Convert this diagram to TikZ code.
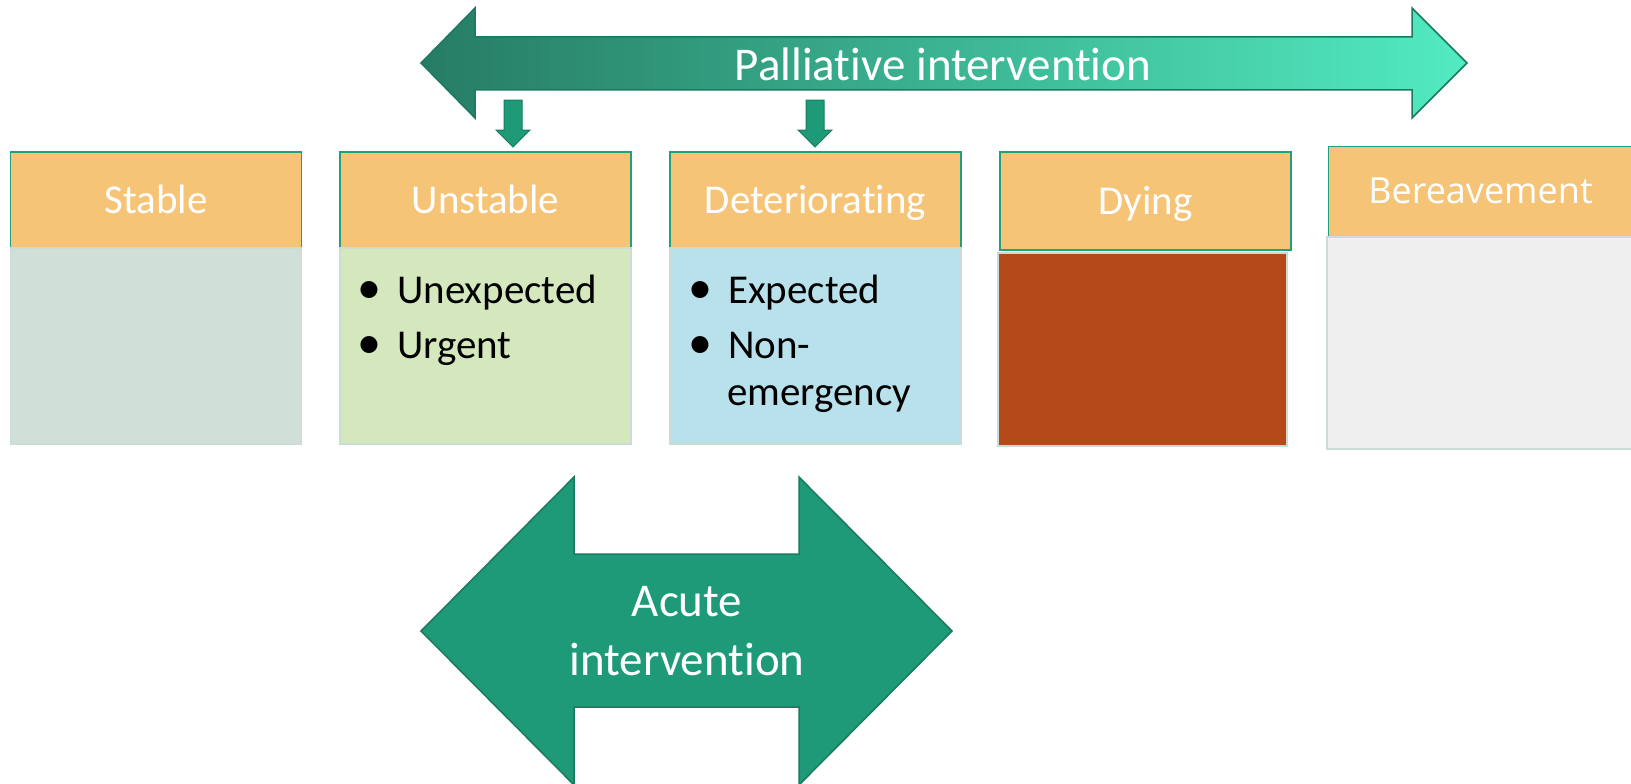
\documentclass[tikz,border=0pt]{standalone}
\usepackage{fontspec}
\setmainfont{Carlito}[RawFeature={-liga;-clig;-calt;-dlig;-rlig}]
\newfontfamily\bereavefont{Open Sans}
\definecolor{headfill}{HTML}{F6C477}
\definecolor{headline}{HTML}{21A07D}
\definecolor{stablefill}{HTML}{D0E0D8}
\definecolor{unstablefill}{HTML}{D5E8BD}
\definecolor{detfill}{HTML}{B8E1EC}
\definecolor{dyingfill}{HTML}{B54918}
\definecolor{bereavefill}{HTML}{EFEFEF}
\definecolor{bodyline}{HTML}{C9DDD4}
\definecolor{acutefill}{HTML}{1F9A78}
\definecolor{acuteline}{HTML}{1A7A5F}
\definecolor{pallleft}{HTML}{267C64}
\definecolor{pallright}{HTML}{52EBC1}
\tikzset{
  head/.style={draw=headline, fill=headfill, line width=1.5pt, minimum width=291pt, minimum height=96pt,
    inner sep=0pt, text=white, text height=33pt, text depth=7pt, font=\fontsize{41}{49}\selectfont},
  body/.style={draw=bodyline, fill=#1, line width=1.5pt, minimum width=291pt, minimum height=196pt, inner sep=0pt},
  item/.style={anchor=base west, inner sep=0pt, font=\fontsize{41}{49}\selectfont},
  dot/.style={anchor=base, inner sep=0pt, font=\fontsize{48}{49}\selectfont}
}
\begin{document}
\begin{tikzpicture}[x=1pt,y=-1pt]
        \useasboundingbox (0,0) rectangle (1631,784);
        % palliative arrow
        \draw[draw=acuteline, line width=1.5pt, left color=pallleft, right color=pallright]
          (421,63) -- (475,8) -- (475,37) -- (1412,37) -- (1412,8) -- (1467,63)
          -- (1412,118) -- (1412,90) -- (475,90) -- (475,118) -- cycle;
        \node[text=white, font=\fontsize{47}{56}\selectfont] (palliative) at (943,64) {Palliative intervention};
        \foreach \ax in {513, 815}{
          \draw[draw=acuteline, fill=acutefill, line width=1pt] (\ax-9,100) -- (\ax+9,100) -- (\ax+9,130)
            -- (\ax+17,130) -- (\ax,147) -- (\ax-17,130) -- (\ax-9,130) -- cycle;
        }
        % stages
        \node[head] (stable) at (156,200) {Stable};
        \node[head] (unstable) at (485.5,200) {Unstable};
        \node[head] (deteriorating) at (815.5,200) {Deteriorating};
        \node[head, line width=2.5pt, minimum height=98pt] (dying) at (1145.5,201) {Dying};
        \node[head, line width=1pt, minimum width=305pt, minimum height=91pt, text height=30pt,
          font=\bereavefont\fontsize{36}{44}\selectfont] (bereavement) at (1480.5,191.5) {Bereavement};
        \node[body=stablefill] (stablebody) at (156,346) {};
        \node[body=unstablefill] (unstablebody) at (485.5,346) {};
        \node[body=detfill] (deterioratingbody) at (815.5,346) {};
        \node[body=dyingfill, line width=2.5pt, minimum width=289pt, minimum height=193pt] (dyingbody) at (1142.5,349.5) {};
        \node[body=bereavefill, minimum width=306pt, minimum height=212pt] (bereavementbody) at (1480,343) {};
        \foreach \bx/\by/\txt/\nm in {369/303/Unexpected/unexpected, 369/358/Urgent/urgent,
                                      700/303/Expected/expected, 700/358/Non-/nonemergency}{
          \node[dot] (\nm dot) at (\bx,\by) {•};
          \node[item] (\nm) at (\bx+28,\by) {\txt};
        }
        \node[item] (emergency) at (727,405) {emergency};
        % acute arrow
        \draw[draw=acuteline, fill=acutefill, line width=1.5pt]
          (421,631) -- (574,477) -- (574,554) -- (799,554) -- (799,477) -- (952,631)
          -- (799,785) -- (799,707) -- (574,707) -- (574,785) -- cycle;
        \node[text=white, align=center, font=\fontsize{47}{59}\selectfont] (acute) at (687,631) {Acute\\intervention};
      \end{tikzpicture}
\end{document}
